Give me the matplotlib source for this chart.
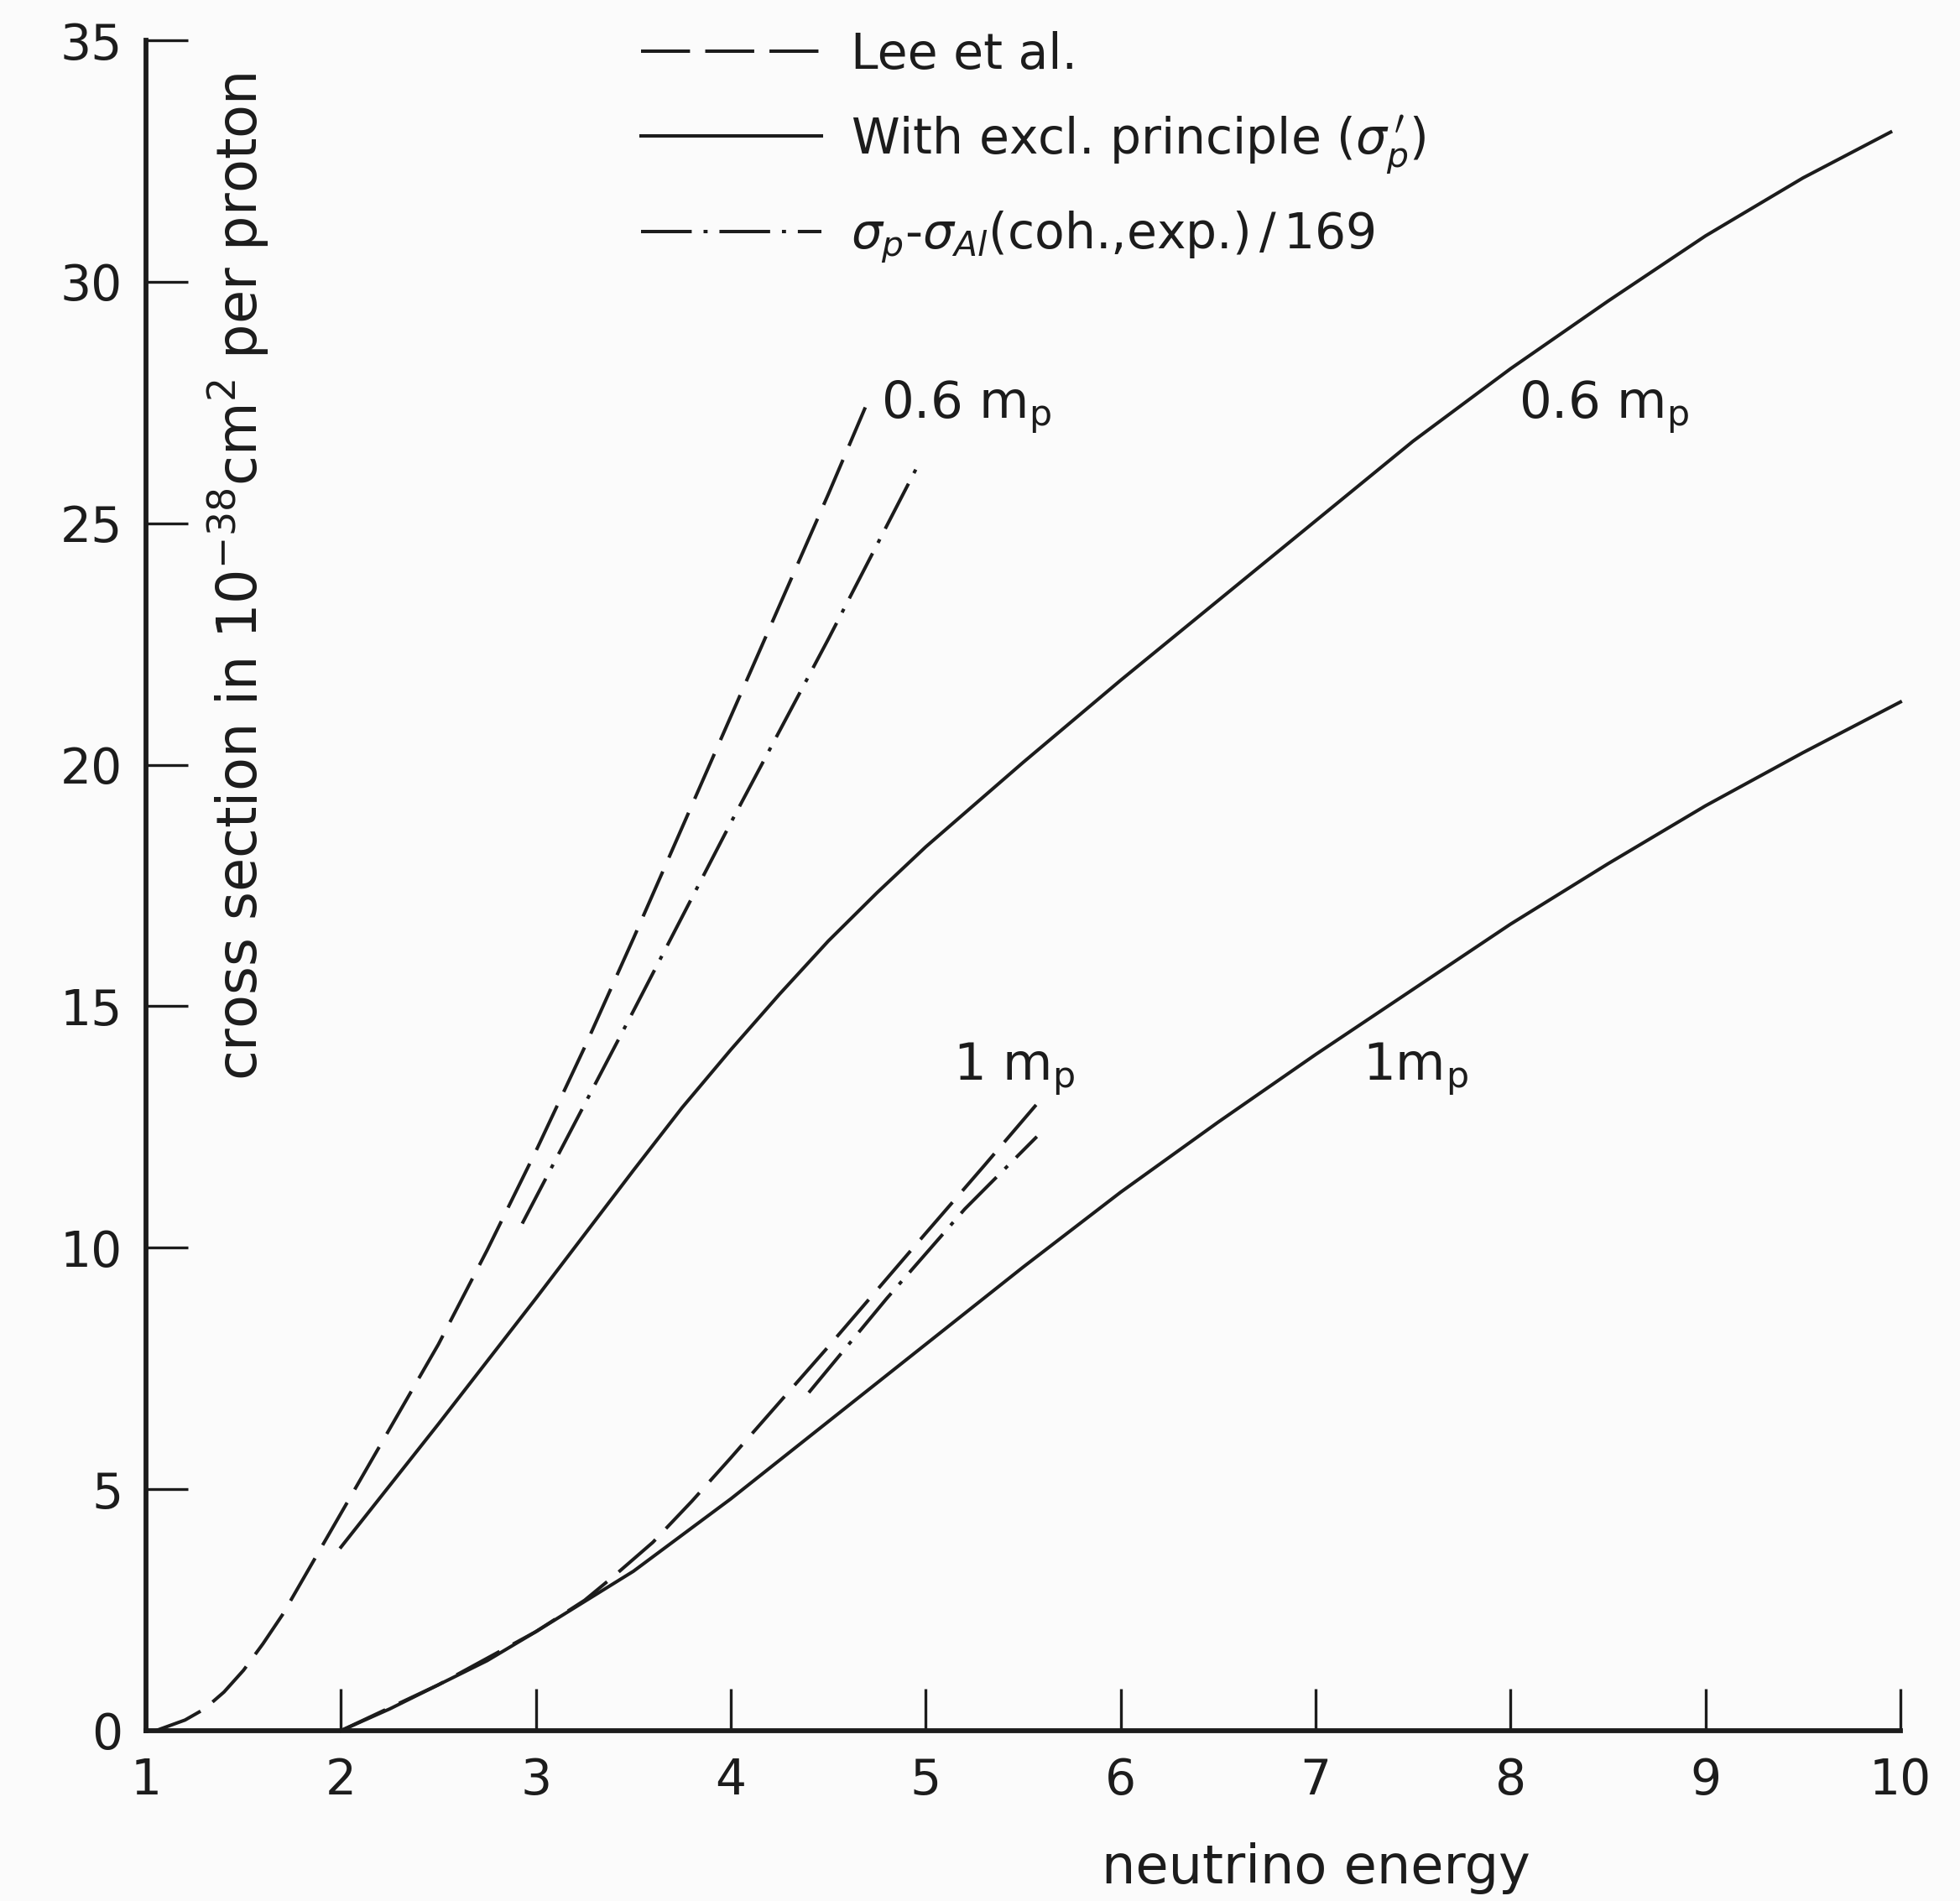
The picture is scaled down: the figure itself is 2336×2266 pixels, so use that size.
import numpy as np
import matplotlib.pyplot as plt

# values
# solid lines: with exclusion principle (sigma_p')
solid_06_x = [2.0, 2.5, 3.0, 3.5, 3.75, 4.0, 4.25, 4.5, 4.75, 5.0, 5.5, 6.0, 6.5, 7.0, 7.5, 8.0, 8.5, 9.0, 9.5, 9.95]
solid_06_y = [3.8, 6.35, 8.95, 11.6, 12.9, 14.1, 15.25, 16.35, 17.35, 18.3, 20.05, 21.75, 23.4, 25.05, 26.7, 28.2, 29.6, 30.95, 32.15, 33.1]
solid_1_x = [2.0, 2.25, 2.5, 2.75, 3.0, 3.5, 4.0, 4.5, 5.0, 5.5, 6.0, 6.5, 7.0, 7.5, 8.0, 8.5, 9.0, 9.5, 10.0]
solid_1_y = [0.0, 0.45, 0.95, 1.45, 2.05, 3.3, 4.8, 6.4, 8.0, 9.6, 11.15, 12.6, 14.0, 15.35, 16.7, 17.95, 19.15, 20.25, 21.3]

# dashed: Lee et al.
lee_06_x = [1.05, 1.2, 1.3, 1.4, 1.5, 1.6, 1.7, 1.8, 1.9, 2.0, 2.25, 2.5, 2.75, 3.0, 3.25, 3.5, 3.75, 4.0, 4.25, 4.5, 4.69]
lee_06_y = [0.0, 0.22, 0.45, 0.8, 1.25, 1.8, 2.4, 3.1, 3.8, 4.5, 6.25, 8.0, 9.95, 12.0, 14.15, 16.4, 18.7, 21.0, 23.3, 25.6, 27.4]
lee_1_x = [2.0, 2.5, 3.0, 3.25, 3.4, 3.6, 3.8, 4.0, 4.5, 5.0, 5.3, 5.59]
lee_1_y = [0.0, 0.95, 2.05, 2.7, 3.2, 3.9, 4.75, 5.65, 7.95, 10.3, 11.7, 13.07]

# dash-dot: sigma_p - sigma_Al(coh., exp.)/169
exp_06_x = [2.93, 3.5, 4.0, 4.5, 4.96]
exp_06_y = [10.5, 14.9, 18.8, 22.6, 26.2]
exp_1_x = [4.4, 4.8, 5.2, 5.57]
exp_1_y = [7.0, 8.95, 10.8, 12.3]

x_ticks = [1, 2, 3, 4, 5, 6, 7, 8, 9, 10]
y_ticks = [0, 5, 10, 15, 20, 25, 30, 35]

ink = "#1c1c1c"
plt.rcParams["font.family"] = ["DejaVu Sans"]
plt.rcParams["mathtext.fontset"] = "dejavusans"

fig = plt.figure(figsize=(23.36, 22.66), dpi=100, facecolor="#fbfbfb")
ax = fig.add_axes([0.0745, 0.0896, 0.8951, 0.8892])
ax.set_facecolor("#fbfbfb")

lw = 2.9
dash = (0, (14.5, 4.5))
dashdot = (0, (15, 3.5, 1.2, 3.5))

ax.plot(lee_06_x, lee_06_y, color=ink, lw=lw, linestyle=dash, label="Lee et al.", clip_on=False)
ax.plot(solid_06_x, solid_06_y, color=ink, lw=lw, label=r"With excl. principle ($\sigma_p^{\,\prime}$)", clip_on=False)
ax.plot(exp_06_x, exp_06_y, color=ink, lw=lw, linestyle=dashdot,
        label=r"$\sigma_p$-$\sigma_{Al}$(coh.,exp.)$\,/\,$169", clip_on=False)
ax.plot(solid_1_x, solid_1_y, color=ink, lw=lw, clip_on=False)
ax.plot(lee_1_x, lee_1_y, color=ink, lw=lw, linestyle=dash, clip_on=False)
ax.plot(exp_1_x, exp_1_y, color=ink, lw=lw, linestyle=dashdot, clip_on=False)

# curve labels
fs = 42
lab_fs = 44
ax.text(4.77, 27.4, r"0.6 m$_{\rm p}$", fontsize=lab_fs, color=ink, va="center", ha="left")
ax.text(8.04, 27.4, r"0.6 m$_{\rm p}$", fontsize=lab_fs, color=ink, va="center", ha="left")
ax.text(5.14, 13.7, r"1 m$_{\rm p}$", fontsize=lab_fs, color=ink, va="center", ha="left")
ax.text(7.24, 13.7, r"1m$_{\rm p}$", fontsize=lab_fs, color=ink, va="center", ha="left")

# y label sits inside the axes next to the spine
ax.text(1.475, 23.9, r"cross section in 10$^{-38}$cm$^2$ per proton", fontsize=47, color=ink,
        rotation=90, ha="center", va="center")

ax.set_xlim(1, 10)
ax.set_ylim(0, 35)
ax.set_xticks(x_ticks)
ax.set_yticks(y_ticks)
ax.tick_params(direction="in", length=36, width=2.4, colors=ink, labelsize=fs)
ax.tick_params(axis="y", pad=20)
ax.tick_params(axis="x", pad=22)

for side in ["top", "right"]:
    ax.spines[side].set_visible(False)
for side in ["left", "bottom"]:
    ax.spines[side].set_linewidth(4.2)
    ax.spines[side].set_color(ink)

ax.set_xlabel("neutrino energy", fontsize=46, color=ink)
ax.xaxis.set_label_coords(0.667, -0.066)

leg = ax.legend(loc="upper left", bbox_to_anchor=(0.268, 1.02), frameon=False, fontsize=fs,
                handlelength=3.7, handletextpad=0.6, labelspacing=0.7, borderpad=0)
for t in leg.get_texts():
    t.set_color(ink)

fig.savefig("out.png", dpi=100, facecolor=fig.get_facecolor())
